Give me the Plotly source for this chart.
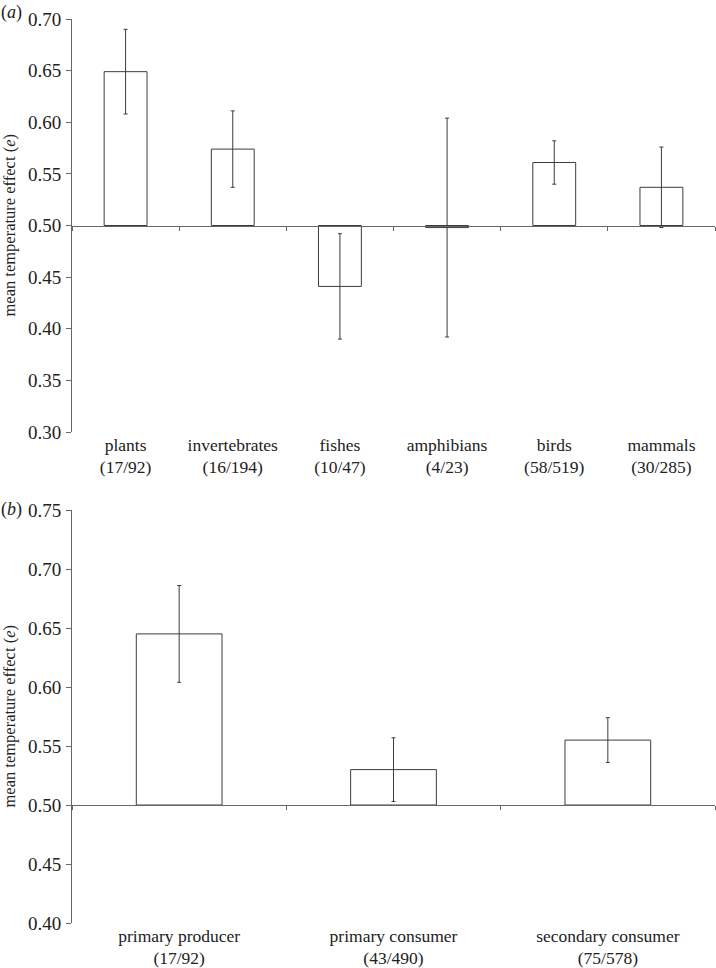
import plotly.graph_objects as go

# Panel (a): taxonomic groups
cats_a = ["plants<br>(17/92)", "invertebrates<br>(16/194)", "fishes<br>(10/47)",
          "amphibians<br>(4/23)", "birds<br>(58/519)", "mammals<br>(30/285)"]
mean_a = [0.649, 0.574, 0.441, 0.498, 0.561, 0.537]
err_a = [0.041, 0.037, 0.051, 0.106, 0.021, 0.039]

# Panel (b): trophic levels
cats_b = ["primary producer<br>(17/92)", "primary consumer<br>(43/490)",
          "secondary consumer<br>(75/578)"]
mean_b = [0.645, 0.530, 0.555]
err_b = [0.041, 0.027, 0.019]

BASE = 0.5
yticks_a = [0.30, 0.35, 0.40, 0.45, 0.50, 0.55, 0.60, 0.65, 0.70]
yticks_b = [0.40, 0.45, 0.50, 0.55, 0.60, 0.65, 0.70, 0.75]
ytitle = "mean temperature effect (<i>e</i>)"

FONT = "Liberation Serif"
LINE = "#3c3c3c"
AX = "#666666"
TXT = "#222222"

W, H = 716, 968
ML, MR, MT, MB = 72, 1, 19, 45
plot_w = W - ML - MR
plot_h = H - MT - MB
dom_a = [(923 - 432) / plot_h, 1.0]
dom_b = [0.0, (923 - 510) / plot_h]
ra = [0.30, 0.70]
rb = [0.40, 0.75]
pos_a = dom_a[0] + (dom_a[1] - dom_a[0]) * (BASE - ra[0]) / (ra[1] - ra[0])
pos_b = dom_b[0] + (dom_b[1] - dom_b[0]) * (BASE - rb[0]) / (rb[1] - rb[0])

fig = go.Figure()

def add_panel(cats, means, errs, xa, xa_free, ya):
    fig.add_trace(go.Bar(
        x=cats, y=[m - BASE for m in means], base=BASE,
        width=0.4, xaxis=xa, yaxis=ya,
        marker=dict(color="white", line=dict(color=LINE, width=1)),
        hoverinfo="skip", showlegend=False))
    fig.add_trace(go.Scatter(
        x=cats, y=means, mode="markers", xaxis=xa, yaxis=ya,
        marker=dict(size=1, color="rgba(0,0,0,0)"),
        error_y=dict(type="data", array=errs, visible=True,
                     color=LINE, thickness=1, width=2),
        hoverinfo="skip", showlegend=False))
    # invisible trace to register free x axis (drawn at the 0.50 line)
    fig.add_trace(go.Scatter(
        x=cats, y=means, mode="markers", xaxis=xa_free, yaxis=ya,
        marker=dict(size=1, color="rgba(0,0,0,0)"),
        hoverinfo="skip", showlegend=False))

add_panel(cats_a, mean_a, err_a, "x", "x3", "y")
add_panel(cats_b, mean_b, err_b, "x2", "x4", "y2")

catfont = dict(family=FONT, size=17.5, color=TXT)
yfont = dict(family=FONT, size=19, color=TXT)
titlefont = dict(family=FONT, size=16.5, color=TXT)

def xlabels(anchor, cats):
    return dict(type="category", categoryorder="array", categoryarray=cats,
                range=[-0.5, len(cats) - 0.5], anchor=anchor, domain=[0, 1],
                showline=False, ticks="", showgrid=False, zeroline=False,
                tickfont=catfont, fixedrange=True)

def xfree(over, pos, cats):
    return dict(type="category", categoryorder="array", categoryarray=cats,
                range=[-0.5, len(cats) - 0.5], overlaying=over, anchor="free",
                position=pos, side="bottom", domain=[0, 1],
                showline=True, linecolor=AX, linewidth=1,
                ticks="outside", tickson="boundaries", ticklen=4,
                tickcolor=AX, tickwidth=1, showticklabels=False,
                showgrid=False, zeroline=False, fixedrange=True)

def yax(anchor, dom, rng, ticks):
    return dict(domain=dom, range=rng, anchor=anchor, tickvals=ticks,
                ticktext=[f"{t:.2f}" for t in ticks],
                showline=True, linecolor=AX, linewidth=1,
                ticks="outside", ticklen=5, tickcolor=AX, tickwidth=1,
                showgrid=False, zeroline=False, tickfont=yfont,
                ticklabelstandoff=1, fixedrange=True)

def label(text, y, yshift):
    return dict(text=text, xref="paper", yref="paper", x=-ML / plot_w,
                y=y, xanchor="left", yanchor="middle", xshift=-1, yshift=yshift,
                showarrow=False, font=dict(family=FONT, size=18, color=TXT))

def vtitle(dom):
    return dict(text=ytitle, xref="paper", yref="paper", x=(9 - ML) / plot_w,
                y=(dom[0] + dom[1]) / 2, xanchor="center", yanchor="middle",
                textangle=-90, showarrow=False, font=titlefont)

fig.update_layout(
    width=W, height=H,
    margin=dict(l=ML, r=MR, t=MT, b=MB),
    paper_bgcolor="white", plot_bgcolor="white",
    font=dict(family=FONT, color=TXT),
    xaxis=xlabels("y", cats_a),
    xaxis2=xlabels("y2", cats_b),
    xaxis3=xfree("x", pos_a, cats_a),
    xaxis4=xfree("x2", pos_b, cats_b),
    yaxis=yax("x", dom_a, ra, yticks_a),
    yaxis2=yax("x2", dom_b, rb, yticks_b),
    annotations=[
        label("(<i>a</i>)", 1.0, 7),
        label("(<i>b</i>)", dom_b[1], 1),
        vtitle(dom_a),
        vtitle(dom_b),
    ],
)

# remove the default 8px page margin so the figure fills the window exactly
fig.write_html("out.html", config={"displayModeBar": False},
               post_script="document.body.style.margin='0px';")
